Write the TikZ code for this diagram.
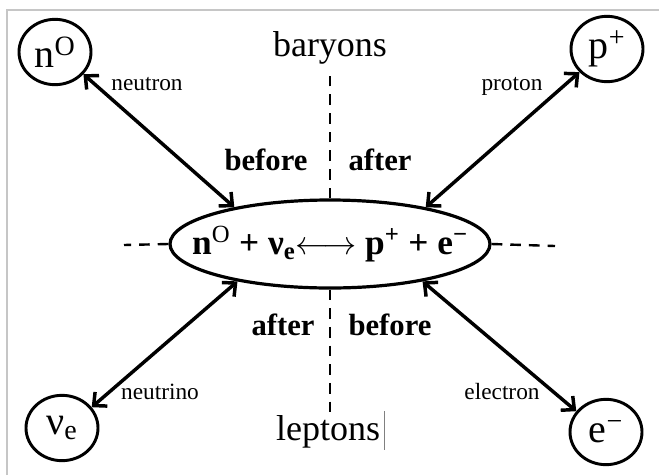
\documentclass[tikz,border=0pt]{standalone}
\usepackage{fontspec}
\setmainfont{Liberation Serif}
\usetikzlibrary{arrows.meta,positioning,shapes.geometric}

\begin{document}
\begin{tikzpicture}[x=0.75pt, y=-0.75pt,
  particle/.style={draw, ellipse, line width=2.2pt, minimum width=54pt, minimum height=49pt, inner sep=0pt, font=\fontsize{30}{32}\selectfont},
  reaction/.style={draw, ellipse, line width=2.4pt, minimum width=240pt, minimum height=66pt, inner xsep=-30pt, inner ysep=0pt, font=\bfseries\fontsize{26.5}{28}\selectfont},
  link/.style={{Straight Barb[length=7.5pt,width=14pt]}-{Straight Barb[length=7.5pt,width=14pt]}, line width=2.6pt},
  divider/.style={dash pattern=on 8pt off 6pt, line width=1.8pt},
  tag/.style={font=\fontsize{17.5}{19}\selectfont},
  side/.style={font=\bfseries\fontsize{23}{25}\selectfont},
  group/.style={font=\fontsize{27}{29}\selectfont}]
\useasboundingbox (0,0) rectangle (659,475);
\draw[gray!45, line width=0.8pt] (7,475) -- (7,10) -- (659,10);

% reaction in the middle
\node[reaction] (reac) at (330,244) {n\textsuperscript{\mdseries O} + ν\textsubscript{e}$\longleftrightarrow$ p\textsuperscript{+} + e\textsuperscript{−}};

% particles
\node[particle] (n0) at (55,52) {n\textsuperscript{O}};
\node[particle] (pp) at (607,49) {p\textsuperscript{+}};
\node[particle] (nue) at (62,428) {ν\textsubscript{e}};
\node[particle] (em) at (606,432) {e\textsuperscript{−}};

\draw[link] (n0.-38) -- (reac.159);
\draw[link] (pp.-140) -- (reac.21);
\draw[link] (nue.35) -- (reac.-158);
\draw[link] (em.145) -- (reac.-22);
\node[tag] (neutron) at (147,84) {neutron};
\node[tag] (proton) at (512,86) {proton};
\node[tag] (neutrino) at (160,392) {neutrino};
\node[tag] (electron) at (502,392) {electron};

% dividers
\coordinate (topend) at (330,75);
\coordinate (botend) at (330,413);
\coordinate (leftend) at (124,245);
\coordinate (rightend) at (555,246);
\draw[divider] (reac.north) -- (topend);
\draw[divider] (reac.south) -- (botend);
\draw[divider] (reac.west) -- (leftend);
\draw[divider] (reac.east) -- (rightend);

\node[group] (bary) at (330,48) {baryons};
\node[group] (lept) at (328,432) {leptons};
\draw[gray, line width=0.6pt] (384,411) -- (384,450);

\node[side] (b1) at (266,160) {before};
\node[side] (a1) at (380,160) {after};
\node[side] (a2) at (283,325) {after};
\node[side] (b2) at (390,325) {before};
\end{tikzpicture}
\end{document}
